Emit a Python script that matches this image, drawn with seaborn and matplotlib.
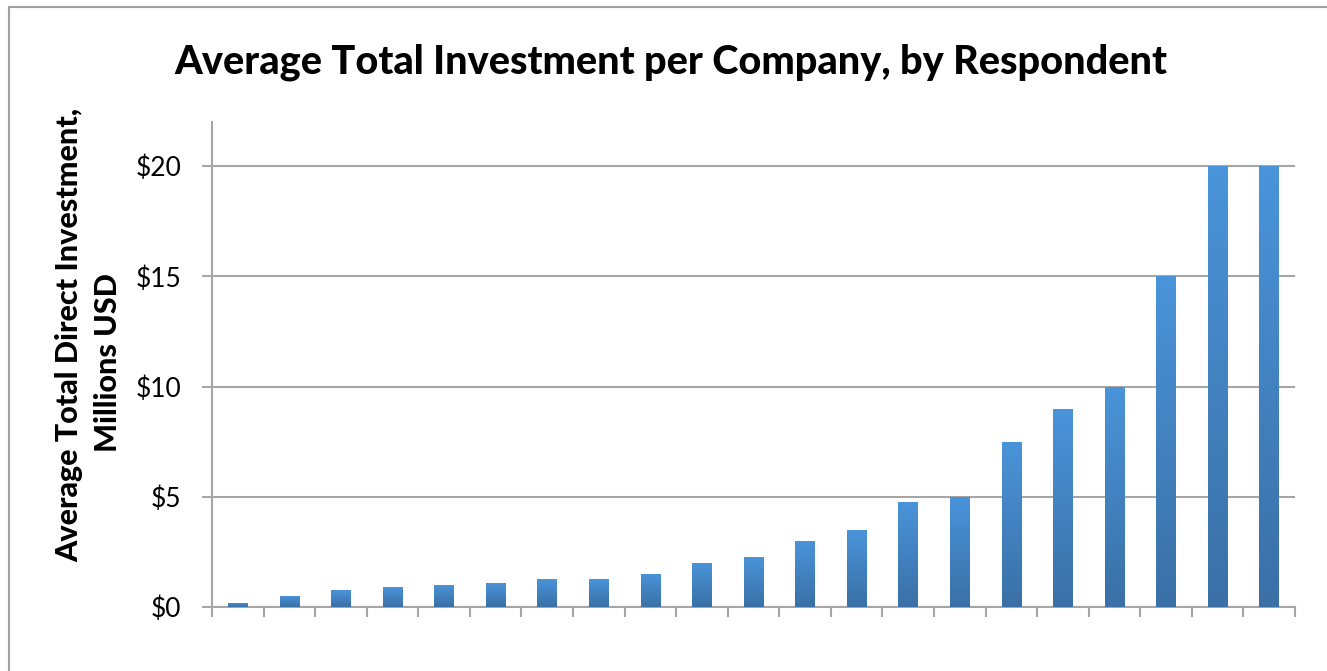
import matplotlib
matplotlib.use("Agg")
import matplotlib.pyplot as plt
import seaborn as sns
import numpy as np
import pandas as pd
from matplotlib.patches import Rectangle
from matplotlib.colors import LinearSegmentedColormap

# ---- data ----
respondents = [f"R{i}" for i in range(1, 22)]
investment = [0.2, 0.5, 0.75, 0.9, 1.0, 1.1, 1.25, 1.25, 1.5, 2.0, 2.25,
              3.0, 3.5, 4.75, 5.0, 7.5, 9.0, 10.0, 15.0, 20.0, 20.0]
y_ticks = [0, 5, 10, 15, 20]
y_tick_labels = [r"\$0", r"\$5", r"\$10", r"\$15", r"\$20"]
title = "Average Total Investment per Company, by Respondent"
ylabel_lines = ["Average Total Direct Investment,", "Millions USD"]

sns.set_theme(style="white")
plt.rcParams['font.family'] = ['Lato', 'DejaVu Sans']

W, H = 1327, 671
fig = plt.figure(figsize=(W / 100, H / 100), dpi=100)
fig.patch.set_facecolor("white")
ax = fig.add_axes([212 / W, 1 - 607 / H, (1295 - 212) / W, (607 - 122) / H])

df = pd.DataFrame({"respondent": respondents, "investment": investment})
sns.barplot(data=df, x="respondent", y="investment", ax=ax, color="#4289cf",
            width=0.38, saturation=1, zorder=3)

# vertical gradient fill for bars
cmap = LinearSegmentedColormap.from_list("barg", ["#3a70a6", "#4a94da"])
grad = np.linspace(0, 1, 256).reshape(-1, 1)
for p in list(ax.patches):
    x0, y0 = p.get_x(), p.get_y()
    w, h = p.get_width(), p.get_height()
    im = ax.imshow(grad, extent=[x0, x0 + w, y0, y0 + h], aspect="auto",
                   cmap=cmap, origin="lower", zorder=4, interpolation="bilinear")
    im.set_clip_path(p)
    p.set_edgecolor("none")

ax.set_xlim(-0.5, len(respondents) - 0.5)
ax.set_ylim(0, 22)
ax.set_aspect("auto")

grid_c = "#a6a6a6"
ax.set_yticks(y_ticks)
ax.set_yticklabels(y_tick_labels, fontsize=19, color="black")
ax.set_xticks(np.arange(-0.5, len(respondents), 1.0))
ax.set_xticklabels([])
ax.yaxis.grid(True, color=grid_c, lw=1.5, zorder=1)
ax.xaxis.grid(False)
ax.set_axisbelow(True)
ax.tick_params(axis="y", direction="out", length=7, width=1.5, color=grid_c,
               pad=15, left=True)
ax.tick_params(axis="x", direction="out", length=7, width=1.5, color=grid_c,
               bottom=True)
for s in ["top", "right"]:
    ax.spines[s].set_visible(False)
for s in ["left", "bottom"]:
    ax.spines[s].set_color(grid_c)
    ax.spines[s].set_linewidth(1.5)
ax.set_xlabel("")
ax.set_ylabel("")

fig.text(671 / W, 1 - 62 / H, title, ha="center", va="center",
         fontsize=28.5, fontweight="black", color="black")
fig.text(78 / W, 1 - 335 / H, ylabel_lines[0], ha="center", va="baseline",
         rotation=90, rotation_mode="anchor", fontsize=22,
         fontweight="black", color="black")
fig.text(117 / W, 1 - 363 / H, ylabel_lines[1], ha="center", va="baseline",
         rotation=90, rotation_mode="anchor", fontsize=22,
         fontweight="black", color="black")

fig.add_artist(Rectangle((8.5 / W, -0.1), 1.2, (1 - 6.5 / H) + 0.1,
                         transform=fig.transFigure, fill=False,
                         ec="#a0a0a0", lw=1.5))

fig.savefig("out.png", dpi=100)
